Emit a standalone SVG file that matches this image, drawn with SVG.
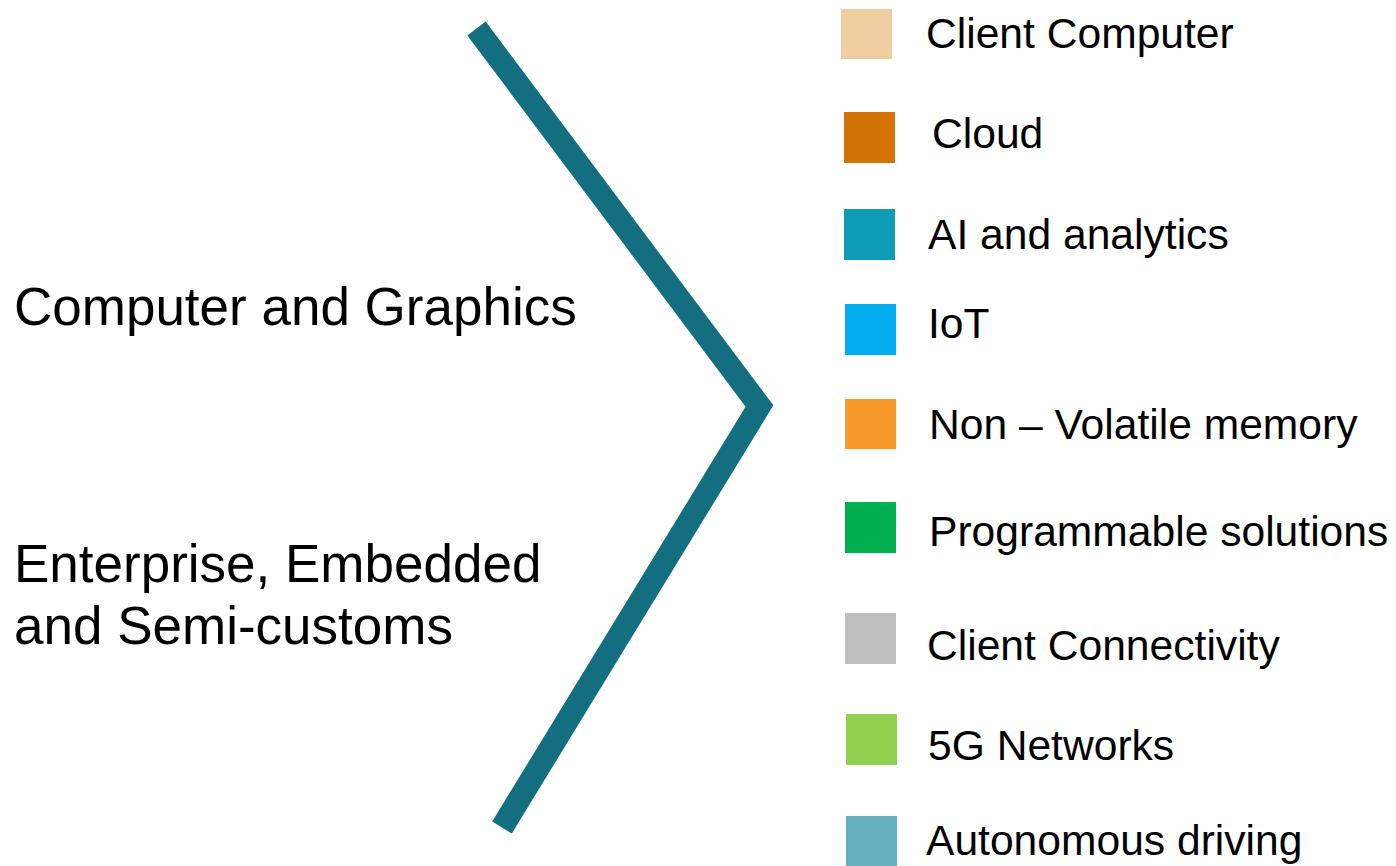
<svg xmlns="http://www.w3.org/2000/svg" width="1396" height="866" viewBox="0 0 1396 866">
<style>
  text { font-family: "Liberation Sans", Arial, sans-serif; fill: #000; }
  .big { font-size: 53px; }
  .leg { font-size: 42.6px; }
  .chev { fill: none; stroke: #136F80; stroke-width: 23; stroke-linejoin: miter; stroke-linecap: butt; }
</style>
<rect width="1396" height="866" fill="#fff"/>
<g id="connectors">
  <path class="chev" d="M476.5,28.5 L759.5,406 L502,827.5"/>
</g>
<g id="label-computer-graphics">
  <text class="big" x="14" y="325">Computer and Graphics</text>
</g>
<g id="label-enterprise">
  <text class="big" x="14" y="582">Enterprise, Embedded</text>
  <text class="big" x="14" y="644">and Semi-customs</text>
</g>
<g id="legend-client-computer">
  <rect x="841" y="9" width="51" height="50" fill="#F0CDA0"/>
  <text class="leg" x="926" y="48">Client Computer</text>
</g>
<g id="legend-cloud">
  <rect x="844" y="112" width="51" height="51" fill="#D37306"/>
  <text class="leg" x="932" y="148">Cloud</text>
</g>
<g id="legend-ai">
  <rect x="844" y="209" width="51" height="51" fill="#0E9CB6"/>
  <text class="leg" x="928" y="249">AI and analytics</text>
</g>
<g id="legend-iot">
  <rect x="845" y="304" width="51" height="51" fill="#00AEEF"/>
  <text class="leg" x="928" y="338">IoT</text>
</g>
<g id="legend-nvm">
  <rect x="845" y="399" width="51" height="50" fill="#F79A2B"/>
  <text class="leg" x="929" y="439">Non – Volatile memory</text>
</g>
<g id="legend-programmable">
  <rect x="845" y="502" width="51" height="51" fill="#00B050"/>
  <text class="leg" x="929" y="546">Programmable solutions</text>
</g>
<g id="legend-client-connectivity">
  <rect x="845" y="613" width="51" height="51" fill="#BFBFBF"/>
  <text class="leg" x="927" y="660">Client Connectivity</text>
</g>
<g id="legend-5g">
  <rect x="846" y="714" width="51" height="51" fill="#92D050"/>
  <text class="leg" x="928" y="760">5G Networks</text>
</g>
<g id="legend-autonomous">
  <rect x="846" y="816" width="51" height="50" fill="#65B0BF"/>
  <text class="leg" x="926" y="855">Autonomous driving</text>
</g>
</svg>
